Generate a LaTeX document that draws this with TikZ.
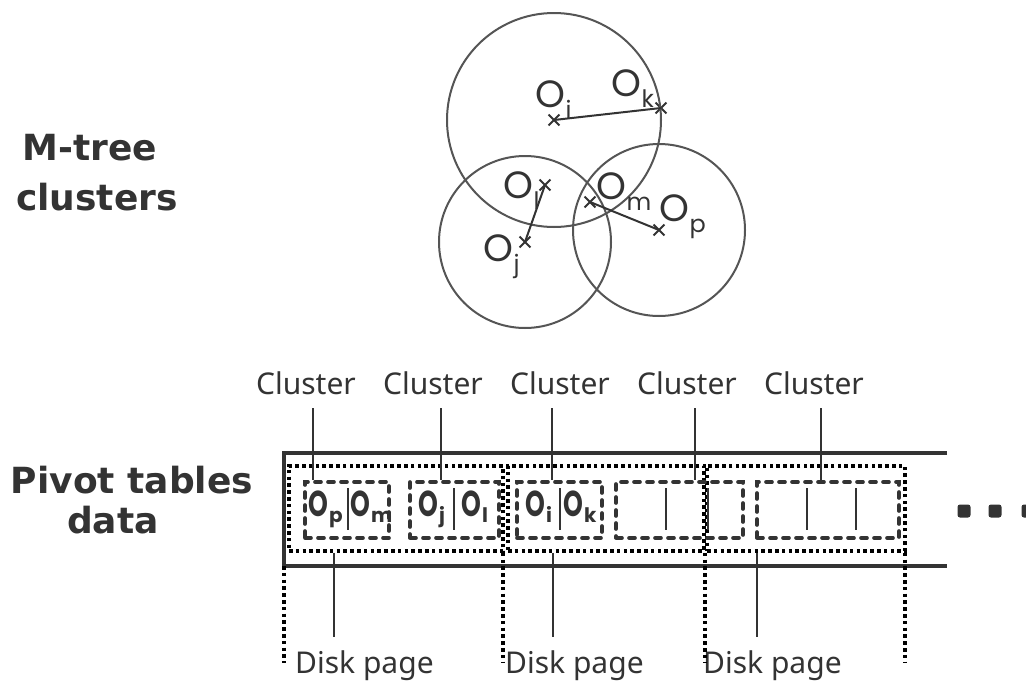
\documentclass[tikz,border=0pt]{standalone}
\usepackage{graphicx}
\usepackage{fontspec}
\setmainfont{Noto Sans}
\newfontfamily\headfont{DejaVu Sans}
\newfontfamily\ofont{Poppins}
\usetikzlibrary{shapes.misc}
\definecolor{ink}{HTML}{333333}
\definecolor{circ}{HTML}{555555}

% object name with a lowered index, for the cluster sketch and the table cells
\newcommand\objname[1]{O\kern0.5pt\raisebox{-11pt}{\fontsize{24}{24}\selectfont #1}}
\newcommand\cellname[1]{\scalebox{0.7}[1]{O}\kern1pt\raisebox{-6pt}{\fontsize{20}{20}\selectfont #1}}

\begin{document}
\begin{tikzpicture}[x=1pt,y=-1pt,
  heading/.style={font=\headfont\bfseries\fontsize{36}{40}\selectfont, text=ink, inner sep=0, anchor=base},
  caption/.style={font=\fontsize{30}{34}\selectfont, text=ink, inner sep=0},
  ring/.style={draw=circ, line width=2pt},
  objmark/.style={cross out, draw=ink, line width=1.8pt, minimum size=9pt, inner sep=0},
  objlabel/.style={font=\ofont\fontsize{38}{42}\selectfont, text=ink, inner sep=0, anchor=base west},
  celllabel/.style={font=\ofont\bfseries\fontsize{36}{40}\selectfont, text=ink, inner sep=0, anchor=base west},
  radius line/.style={draw=ink, line width=2pt},
  frame/.style={draw=ink, line width=3.6pt},
  link/.style={draw=ink, line width=2.6pt},
  divider/.style={draw=ink, line width=2.6pt},
  pagebox/.style={draw=black, line width=3.6pt, dash pattern=on 3.6pt off 3.2pt, inner sep=0},
  pageline/.style={draw=black, line width=3.6pt, dash pattern=on 3.6pt off 3.2pt},
  clusterbox/.style={draw=ink, line width=3.6pt, dash pattern=on 6pt off 7pt, line cap=round, inner sep=0},
  dot/.style={fill=ink, rounded corners=2.5pt, minimum size=13pt, inner sep=0},
]
\useasboundingbox (0,0) rectangle (1026,683);

% ---------- headings ----------
\node[heading] (h1) at (90,160) {M-tree};
\node[heading] (h2) at (97,210) {clusters};
\node[heading] (h3) at (132,493) {Pivot tables};
\node[heading] (h4) at (113,533) {data};

% ---------- M-tree clusters ----------
\node[objmark] (oi) at (554,120) {};
\node[objmark] (ok) at (661,108) {};
\node[objmark] (oj) at (525,242) {};
\node[objmark] (ol) at (545,185) {};
\node[objmark] (om) at (590,202) {};
\node[objmark] (op) at (659,230) {};

\draw[ring] (oi.center) circle[radius=107pt];
\draw[ring] (oj.center) circle[radius=86pt];
\draw[ring] (op.center) circle[radius=86pt];

\draw[radius line] (oi.center) -- (ok.center);
\draw[radius line] (oj.center) -- (ol.center);
\draw[radius line] (om.center) -- (op.center);

\node[objlabel] (li) at (535,107) {\objname{i}};
\node[objlabel] (lk) at (611,96) {\objname{k}};
\node[objlabel] (ll) at (503,198) {\objname{l}};
\node[objlabel] (lm) at (596,199) {\objname{m}};
\node[objlabel] (lp) at (659,221) {\objname{p}};
\node[objlabel] (lj) at (483,261) {\objname{j}};

% ---------- pivot table storage ----------
\coordinate (rtl) at (284,453);
\coordinate (rbl) at (284,566);
\coordinate (rtr) at (947,453);
\coordinate (rbr) at (947,566);
\draw[frame] (rtr) -- (rtl) -- (rbl) -- (rbr);

% disk pages
\node[pagebox, minimum width=214pt, minimum height=85pt] (dp1) at (396,508.5) {};
\node[pagebox, minimum width=196pt, minimum height=85pt] (dp2) at (606,508.5) {};
\node[pagebox, minimum width=198pt, minimum height=85pt] (dp3) at (806,508.5) {};

% clusters stored in the pages
\node[clusterbox, minimum width=84pt, minimum height=56pt] (b1) at (347,510) {};
\node[clusterbox, minimum width=89pt, minimum height=56pt] (b2) at (454.5,510) {};
\node[clusterbox, minimum width=85pt, minimum height=56pt] (b3) at (559.5,510) {};
\node[clusterbox, minimum width=127pt, minimum height=56pt] (b4) at (679.5,510) {};
\node[clusterbox, minimum width=142pt, minimum height=56pt] (b5) at (828,510) {};

% cell separators
\foreach \x in {348,454,560,666,708,807,856}
  \draw[divider] (\x,488) -- (\x,530);

% pivot entries
\node[celllabel] (c1a) at (308,516) {\cellname{p}};
\node[celllabel] (c1b) at (350,516) {\cellname{m}};
\node[celllabel] (c2a) at (418,516) {\cellname{j}};
\node[celllabel] (c2b) at (461,516) {\cellname{l}};
\node[celllabel] (c3a) at (525,516) {\cellname{i}};
\node[celllabel] (c3b) at (563,516) {\cellname{k}};

% cluster captions and their leaders
\node[caption, anchor=base] (cl1) at (306,394) {Cluster};
\node[caption, anchor=base] (cl2) at (433,394) {Cluster};
\node[caption, anchor=base] (cl3) at (560,394) {Cluster};
\node[caption, anchor=base] (cl4) at (687,394) {Cluster};
\node[caption, anchor=base] (cl5) at (814,394) {Cluster};

\coordinate (t1) at (313,408);
\coordinate (t2) at (441,408);
\coordinate (t3) at (552,408);
\coordinate (t4) at (695,408);
\coordinate (t5) at (821,408);
\draw[link] (t1) -- (t1 |- b1.north);
\draw[link] (t2) -- (t2 |- b2.north);
\draw[link] (t3) -- (t3 |- b3.north);
\draw[link] (t4) -- (t4 |- b4.north);
\draw[link] (t5) -- (t5 |- b5.north);

% disk page captions and their leaders
\node[caption, anchor=base west] (dl1) at (295,673) {Disk page};
\node[caption, anchor=base west] (dl2) at (505,673) {Disk page};
\node[caption, anchor=base west] (dl3) at (703,673) {Disk page};

\coordinate (u1) at (334,637);
\coordinate (u2) at (553,637);
\coordinate (u3) at (757,637);
\draw[link] (u1 |- dp1.south) -- (u1);
\draw[link] (u2 |- dp2.south) -- (u2);
\draw[link] (u3 |- dp3.south) -- (u3);

% page boundaries
\coordinate (d0) at (284,663);
\coordinate (d1) at (503,663);
\coordinate (d2) at (705,663);
\coordinate (d3) at (905,663);
\draw[pageline] (rbl) -- (d0);
\draw[pageline] (d1 |- dp1.south) -- (d1);
\draw[pageline] (d2 |- dp3.south) -- (d2);
\draw[pageline] (d3 |- dp3.south) -- (d3);

% continuation
\node[dot] (e1) at (964,511) {};
\node[dot] (e2) at (995,511) {};
\node[dot] (e3) at (1028,511) {};
\end{tikzpicture}
\end{document}
